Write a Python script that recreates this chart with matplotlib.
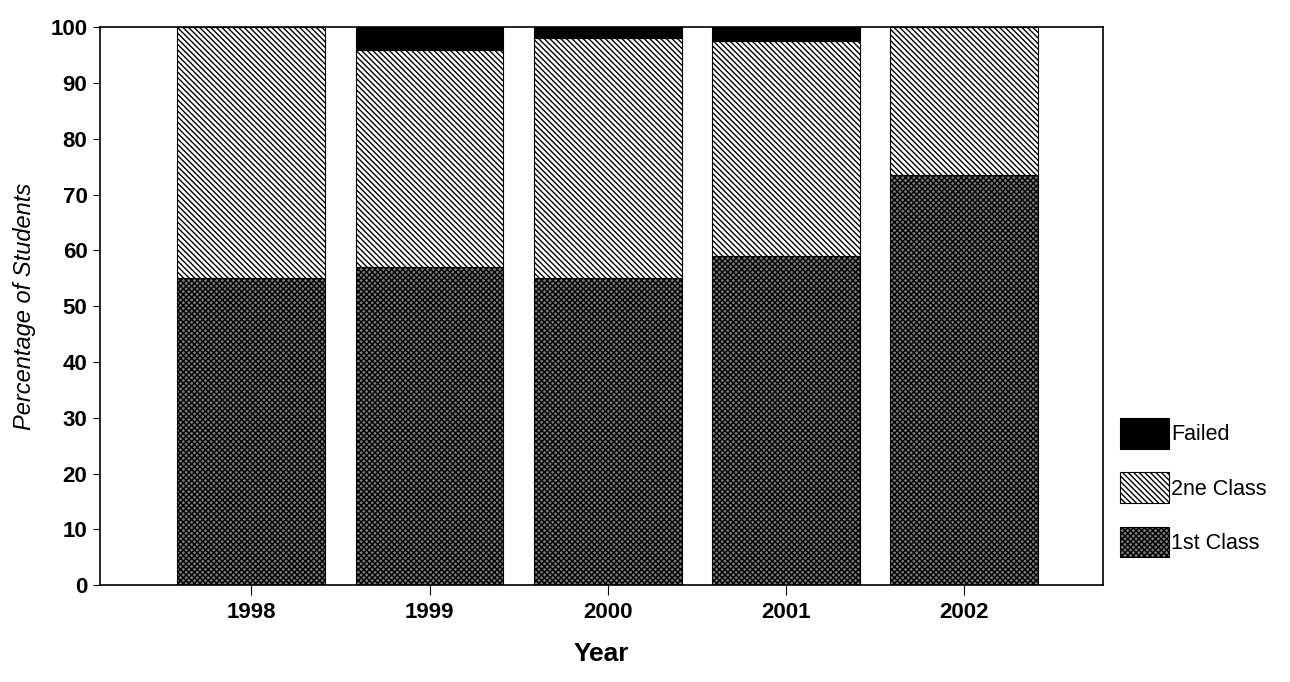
import matplotlib
matplotlib.use('Agg')
import matplotlib.pyplot as plt
import numpy as np

plt.rcParams['font.family'] = ['Liberation Sans', 'DejaVu Sans']
plt.rcParams['hatch.linewidth'] = 1.0

years = ['1998', '1999', '2000', '2001', '2002']
first_class = [55, 57, 55, 59, 73.5]
second_class = [45, 39, 43, 38.5, 26.5]
failed = [0, 4, 2, 2.5, 0]

fig = plt.figure(figsize=(12.9, 6.82), dpi=100)
ax = fig.add_axes([0.0775, 0.142, 0.7775, 0.818])

x = np.arange(len(years))
w = 0.83
b1 = ax.bar(x, first_class, w, color='#7a7a7a', edgecolor='black', hatch='xxxxxx', lw=0.8)
b2 = ax.bar(x, second_class, w, bottom=first_class, color='white', edgecolor='black',
            hatch='\\\\\\\\\\\\', lw=0.8)
bot = np.array(first_class) + np.array(second_class)
b3 = ax.bar(x, failed, w, bottom=bot, color='black', edgecolor='black', lw=0.8)

ax.set_xlim(-0.85, 4.78)
ax.set_ylim(0, 100)
ax.set_yticks(range(0, 101, 10))
ax.set_xticks(x)
ax.set_xticklabels(years)
for lab in ax.get_xticklabels() + ax.get_yticklabels():
    lab.set_fontsize(16)
    lab.set_fontweight('bold')
ax.tick_params(axis='x', length=7, pad=5, direction='out')
ax.tick_params(axis='y', length=5, pad=4)
for s in ax.spines.values():
    s.set_linewidth(1.2)

ax.set_ylabel('Percentage of Students', fontsize=17, style='italic', labelpad=10)
ax.set_xlabel('Year', fontsize=19, fontweight='bold', labelpad=14)

fig.legend([b3, b2, b1], ['Failed', '2ne Class', '1st Class'],
           loc='center left', bbox_to_anchor=(0.853, 0.285), frameon=False,
           fontsize=15.5, handlelength=2.3, handleheight=1.8, handletextpad=0.1,
           labelspacing=1.1)

fig.savefig('out.png', dpi=100)
